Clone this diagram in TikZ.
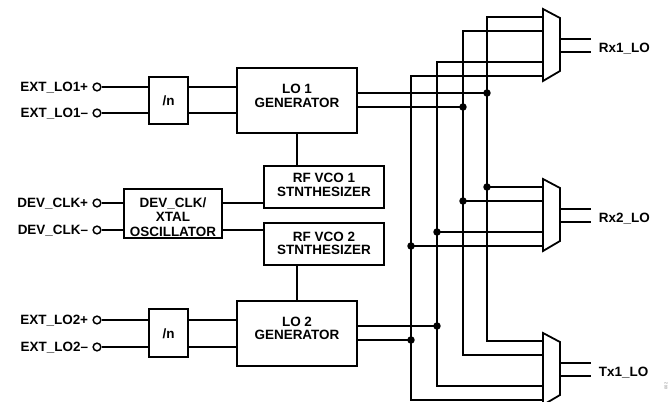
\documentclass[tikz,border=0pt]{standalone}
\usepackage{fontspec}
\setmainfont{Liberation Sans}
\begin{document}
\begin{tikzpicture}[x=0.75pt,y=-0.75pt,line width=1.35pt,
  blk/.style={draw,inner sep=0pt,line width=1.35pt},
  txt/.style={font=\fontsize{10.1}{10.2}\selectfont\bfseries,align=center,inner sep=0pt},
  term/.style={circle,draw,fill=white,inner sep=0pt,minimum size=5.8pt,line width=1.1pt},
  jdot/.style={circle,fill=black,inner sep=0pt,minimum size=5.6pt},
  wire/.style={line width=1.35pt},
  muxs/.style={draw,line width=1.35pt,line join=miter}]
\useasboundingbox (0,0) rectangle (671,402);
\clip (0,0) rectangle (671,402);

% blocks
\node[blk,minimum width=29.25pt,minimum height=35.25pt] (div1) at (168.5,100.5) {};
\node[txt] (div1t) at (168.5,101) {/n};
\node[blk,minimum width=90pt,minimum height=48.75pt] (lo1) at (297,100.5) {};
\node[txt] (lo1t) at (297,96) {LO 1\\GENERATOR};
\node[blk,minimum width=73.5pt,minimum height=36.75pt] (osc) at (173,213.5) {};
\node[txt,font=\fontsize{10.1}{10.8}\selectfont\bfseries] (osct) at (173,217) {DEV\_CLK/\\XTAL\\OSCILLATOR};
\node[blk,minimum width=90pt,minimum height=31.5pt] (vco1) at (324,187) {};
\node[txt] (vco1t) at (324,185) {RF VCO 1\\STNTHESIZER};
\node[blk,minimum width=90pt,minimum height=31.5pt] (vco2) at (324,244) {};
\node[txt] (vco2t) at (324,243.5) {RF VCO 2\\STNTHESIZER};
\node[blk,minimum width=29.25pt,minimum height=36pt] (div2) at (168.5,333) {};
\node[txt] (div2t) at (168.5,333.5) {/n};
\node[blk,minimum width=90pt,minimum height=48.75pt] (lo2) at (297,333.5) {};
\node[txt] (lo2t) at (297,328.5) {LO 2\\GENERATOR};

% muxes
\coordinate (mx1) at (543,9);
\coordinate (mx2) at (543,179);
\coordinate (mx3) at (543,333);
\foreach \m in {mx1,mx2,mx3}{
  \draw[muxs] (\m) -- ++(17,9) -- ++(0,53) -- ++(-17,10) -- cycle;
}
% mux inputs
\coordinate (m1a) at (543,17);  \coordinate (m1b) at (543,31);
\coordinate (m1c) at (543,62);  \coordinate (m1d) at (543,76);
\coordinate (m2a) at (543,187); \coordinate (m2b) at (543,201);
\coordinate (m2c) at (543,232); \coordinate (m2d) at (543,246);
\coordinate (m3a) at (543,341); \coordinate (m3b) at (543,355);
\coordinate (m3c) at (543,386); \coordinate (m3d) at (543,400);
% bus columns
\coordinate (bA) at (487,0); \coordinate (bB) at (463,0);
\coordinate (bC) at (437,0); \coordinate (bD) at (411,0);
% row helpers
\coordinate (y93) at (0,93);   \coordinate (y107) at (0,107);
\coordinate (y326) at (0,326); \coordinate (y340) at (0,340);
\coordinate (xout) at (591,0);

% terminals
\node[term] (t1p) at (97,87) {};
\node[term] (t1m) at (97,113) {};
\node[term] (tcp) at (97,203) {};
\node[term] (tcm) at (97,230) {};
\node[term] (t2p) at (97,320) {};
\node[term] (t2m) at (97,347) {};
\node[txt,anchor=base east] (l1p) at (89,91.5) {EXT\_LO1+};
\node[txt,anchor=base east] (l1m) at (89,117.5) {EXT\_LO1–};
\node[txt,anchor=base east] (lcp) at (89,207.5) {DEV\_CLK+};
\node[txt,anchor=base east] (lcm) at (89,234.5) {DEV\_CLK–};
\node[txt,anchor=base east] (l2p) at (89,324.5) {EXT\_LO2+};
\node[txt,anchor=base east] (l2m) at (89,351.5) {EXT\_LO2–};

% input wires
\draw[wire] (t1p.east) -- (t1p.east -| div1.west);
\draw[wire] (t1m.east) -- (t1m.east -| div1.west);
\draw[wire] (div1.east |- t1p) -- (lo1.west |- t1p);
\draw[wire] (div1.east |- t1m) -- (lo1.west |- t1m);
\draw[wire] (tcp.east) -- (tcp.east -| osc.west);
\draw[wire] (tcm.east) -- (tcm.east -| osc.west);
\draw[wire] (osc.east |- tcp) -- (vco1.west |- tcp);
\draw[wire] (osc.east |- tcm) -- (vco2.west |- tcm);
\draw[wire] (t2p.east) -- (t2p.east -| div2.west);
\draw[wire] (t2m.east) -- (t2m.east -| div2.west);
\draw[wire] (div2.east |- t2p) -- (lo2.west |- t2p);
\draw[wire] (div2.east |- t2m) -- (lo2.west |- t2m);
\draw[wire] (lo1.south) -- (lo1.south |- vco1.north);
\draw[wire] (vco2.south -| lo2.north) -- (lo2.north);

% bus
\draw[wire] (m1a) -- (m1a -| bA) -- (m3a -| bA) -- (m3a);
\draw[wire] (m1b) -- (m1b -| bB) -- (m3b -| bB) -- (m3b);
\draw[wire] (m1c) -- (m1c -| bC) -- (m3c -| bC) -- (m3c);
\draw[wire] (m1d) -- (m1d -| bD) -- (m3d -| bD) -- (m3d);

% junctions
\node[jdot] (j1) at (y93 -| bA) {};
\node[jdot] (j2) at (y107 -| bB) {};
\node[jdot] (j3) at (m2a -| bA) {};
\node[jdot] (j4) at (m2b -| bB) {};
\node[jdot] (j5) at (m2c -| bC) {};
\node[jdot] (j6) at (m2d -| bD) {};
\node[jdot] (j7) at (y326 -| bC) {};
\node[jdot] (j8) at (y340 -| bD) {};
\draw[wire] (lo1.east |- y93) -- (j1.center);
\draw[wire] (lo1.east |- y107) -- (j2.center);
\draw[wire] (lo2.east |- y326) -- (j7.center);
\draw[wire] (lo2.east |- y340) -- (j8.center);
\draw[wire] (j3.center) -- (m2a);
\draw[wire] (j4.center) -- (m2b);
\draw[wire] (j5.center) -- (m2c);
\draw[wire] (j6.center) -- (m2d);

% outputs
\coordinate (o1a) at (560,39);  \coordinate (o1b) at (560,52);
\coordinate (o2a) at (560,209); \coordinate (o2b) at (560,222);
\coordinate (o3a) at (560,363); \coordinate (o3b) at (560,376);
\foreach \o in {o1a,o1b,o2a,o2b,o3a,o3b}{
  \draw[wire] (\o) -- (\o -| xout);
}
\node[txt,anchor=base west] (rx1) at (598,52.5) {Rx1\_LO};
\node[txt,anchor=base west] (rx2) at (598,222.5) {Rx2\_LO};
\node[txt,anchor=base west] (tx1) at (598,376.5) {Tx1\_LO};
\node[font=\fontsize{3}{3}\selectfont,rotate=90,text=gray,inner sep=0pt] (fig) at (666,386) {002};
\end{tikzpicture}
\end{document}
